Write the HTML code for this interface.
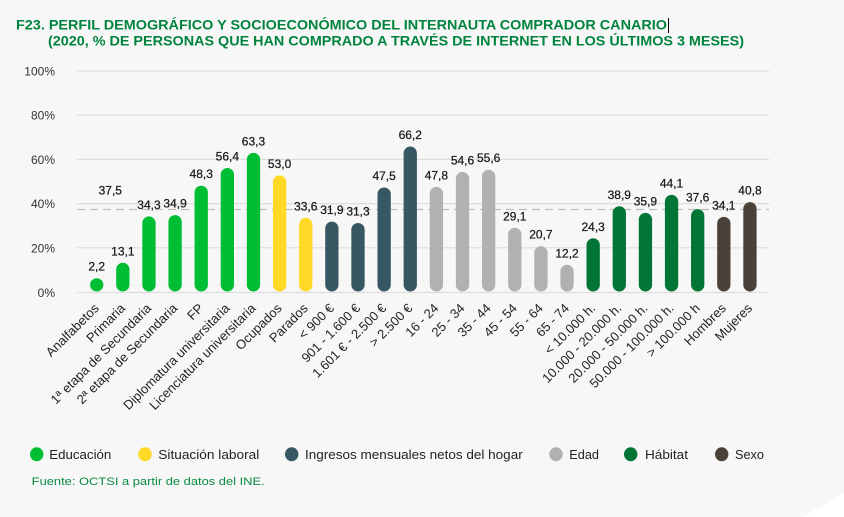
<!DOCTYPE html>
<html>
<head>
<meta charset="utf-8">
<style>
  html, body { margin: 0; padding: 0; background: #f7f7f7; }
  body { width: 844px; height: 517px; overflow: hidden; }
  svg { display: block; }
  text { font-family: "Liberation Sans", Arial, sans-serif; }
</style>
</head>
<body>
<svg width="844" height="517" viewBox="0 0 844 517" xmlns="http://www.w3.org/2000/svg">
  <rect x="0" y="0" width="844" height="517" fill="#f7f7f7"/>
  <polygon points="802,517 844,493 844,517" fill="#ffffff"/>

  <!-- Title -->
  <text x="16" y="29.5" font-size="14" font-weight="bold" fill="#00843d" textLength="651" lengthAdjust="spacingAndGlyphs">F23. PERFIL DEMOGRÁFICO Y SOCIOECONÓMICO DEL INTERNAUTA COMPRADOR CANARIO</text>
  <text x="48" y="45.5" font-size="14" font-weight="bold" fill="#00843d" textLength="696" lengthAdjust="spacingAndGlyphs">(2020, % DE PERSONAS QUE HAN COMPRADO A TRAVÉS DE INTERNET EN LOS ÚLTIMOS 3 MESES)</text>
  <line x1="668.5" y1="18" x2="668.5" y2="33" stroke="#000" stroke-width="1"/>

  <!-- Grid -->
  <g stroke="#dddddd" stroke-width="1.2">
    <line x1="77" y1="71" x2="769" y2="71"/>
    <line x1="77" y1="115.2" x2="769" y2="115.2"/>
    <line x1="77" y1="159.4" x2="769" y2="159.4"/>
    <line x1="77" y1="203.6" x2="769" y2="203.6"/>
    <line x1="77" y1="247.8" x2="769" y2="247.8"/>
    <line x1="77" y1="292.5" x2="769" y2="292.5"/>
  </g>
  <line x1="77" y1="209.5" x2="769" y2="209.5" stroke="#bdbdbd" stroke-width="1.2" stroke-dasharray="8,5"/>

  <!-- Y axis labels -->
  <g font-size="12" fill="#333" text-anchor="end">
    <text x="55" y="75.5">100%</text>
    <text x="55" y="119.7">80%</text>
    <text x="55" y="163.9">60%</text>
    <text x="55" y="208.1">40%</text>
    <text x="55" y="252.3">20%</text>
    <text x="55" y="297">0%</text>
  </g>

  <!-- Bars -->
  <g>
    <rect x="90.05" y="278.2" width="13.3" height="13.3" rx="6.65" fill="#00be34"/>
    <rect x="116.18" y="262.81" width="13.3" height="28.69" rx="6.65" fill="#00be34"/>
    <rect x="142.31" y="216.38" width="13.3" height="75.12" rx="6.65" fill="#00be34"/>
    <rect x="168.44" y="215.07" width="13.3" height="76.43" rx="6.65" fill="#00be34"/>
    <rect x="194.57" y="185.72" width="13.3" height="105.78" rx="6.65" fill="#00be34"/>
    <rect x="220.7" y="167.98" width="13.3" height="123.52" rx="6.65" fill="#00be34"/>
    <rect x="246.83" y="152.87" width="13.3" height="138.63" rx="6.65" fill="#00be34"/>
    <rect x="272.96" y="175.43" width="13.3" height="116.07" rx="6.65" fill="#ffd926"/>
    <rect x="299.09" y="217.92" width="13.3" height="73.58" rx="6.65" fill="#ffd926"/>
    <rect x="325.22" y="221.64" width="13.3" height="69.86" rx="6.65" fill="#375862"/>
    <rect x="351.35" y="222.95" width="13.3" height="68.55" rx="6.65" fill="#375862"/>
    <rect x="377.48" y="187.47" width="13.3" height="104.03" rx="6.65" fill="#375862"/>
    <rect x="403.61" y="146.52" width="13.3" height="144.98" rx="6.65" fill="#375862"/>
    <rect x="429.74" y="186.82" width="13.3" height="104.68" rx="6.65" fill="#b1b1b1"/>
    <rect x="455.87" y="171.93" width="13.3" height="119.57" rx="6.65" fill="#b1b1b1"/>
    <rect x="482.0" y="169.74" width="13.3" height="121.76" rx="6.65" fill="#b1b1b1"/>
    <rect x="508.13" y="227.77" width="13.3" height="63.73" rx="6.65" fill="#b1b1b1"/>
    <rect x="534.26" y="246.17" width="13.3" height="45.33" rx="6.65" fill="#b1b1b1"/>
    <rect x="560.39" y="264.78" width="13.3" height="26.72" rx="6.65" fill="#b1b1b1"/>
    <rect x="586.52" y="238.28" width="13.3" height="53.22" rx="6.65" fill="#007536"/>
    <rect x="612.65" y="206.31" width="13.3" height="85.19" rx="6.65" fill="#007536"/>
    <rect x="638.78" y="212.88" width="13.3" height="78.62" rx="6.65" fill="#007536"/>
    <rect x="664.91" y="194.92" width="13.3" height="96.58" rx="6.65" fill="#007536"/>
    <rect x="691.04" y="209.16" width="13.3" height="82.34" rx="6.65" fill="#007536"/>
    <rect x="717.17" y="216.82" width="13.3" height="74.68" rx="6.65" fill="#4a4239"/>
    <rect x="743.3" y="202.15" width="13.3" height="89.35" rx="6.65" fill="#4a4239"/>
  </g>

  <!-- Value labels -->
  <g font-size="12" fill="#1a1a1a" stroke="#1a1a1a" stroke-width="0.25" text-anchor="middle">
    <text x="110.3" y="194.5">37,5</text>
    <text x="96.7" y="270.7">2,2</text>
    <text x="122.83" y="255.3">13,1</text>
    <text x="148.96" y="208.9">34,3</text>
    <text x="175.09" y="207.6">34,9</text>
    <text x="201.22" y="178.2">48,3</text>
    <text x="227.35" y="160.5">56,4</text>
    <text x="253.48" y="145.4">63,3</text>
    <text x="279.61" y="167.9">53,0</text>
    <text x="305.74" y="210.4">33,6</text>
    <text x="331.87" y="214.1">31,9</text>
    <text x="358.0" y="215.5">31,3</text>
    <text x="384.13" y="180.0">47,5</text>
    <text x="410.26" y="139.0">66,2</text>
    <text x="436.39" y="179.3">47,8</text>
    <text x="462.52" y="164.4">54,6</text>
    <text x="488.65" y="162.2">55,6</text>
    <text x="514.78" y="220.3">29,1</text>
    <text x="540.91" y="238.7">20,7</text>
    <text x="567.04" y="257.3">12,2</text>
    <text x="593.17" y="230.8">24,3</text>
    <text x="619.3" y="198.8">38,9</text>
    <text x="645.43" y="205.4">35,9</text>
    <text x="671.56" y="187.4">44,1</text>
    <text x="697.69" y="201.7">37,6</text>
    <text x="723.82" y="209.3">34,1</text>
    <text x="749.95" y="194.7">40,8</text>
  </g>

  <!-- X axis labels -->
  <g font-size="13" fill="#222" text-anchor="end">
    <text transform="translate(99.7,309) rotate(-45)">Analfabetos</text>
    <text transform="translate(125.83,309) rotate(-45)">Primaria</text>
    <text transform="translate(151.96,309) rotate(-45)">1ª etapa de Secundaria</text>
    <text transform="translate(178.09,309) rotate(-45)">2ª etapa de Secundaria</text>
    <text transform="translate(204.22,309) rotate(-45)">FP</text>
    <text transform="translate(230.35,309) rotate(-45)">Diplomatura universitaria</text>
    <text transform="translate(256.48,309) rotate(-45)">Licenciatura universitaria</text>
    <text transform="translate(282.61,309) rotate(-45)">Ocupados</text>
    <text transform="translate(308.74,309) rotate(-45)">Parados</text>
    <text transform="translate(334.87,309) rotate(-45)">&lt; 900 €</text>
    <text transform="translate(361.0,309) rotate(-45)">901 - 1.600 €</text>
    <text transform="translate(387.13,309) rotate(-45)">1.601 € - 2.500 €</text>
    <text transform="translate(413.26,309) rotate(-45)">&gt; 2.500 €</text>
    <text transform="translate(439.39,309) rotate(-45)">16 - 24</text>
    <text transform="translate(465.52,309) rotate(-45)">25 - 34</text>
    <text transform="translate(491.65,309) rotate(-45)">35 - 44</text>
    <text transform="translate(517.78,309) rotate(-45)">45 - 54</text>
    <text transform="translate(543.91,309) rotate(-45)">55 - 64</text>
    <text transform="translate(570.04,309) rotate(-45)">65 - 74</text>
    <text transform="translate(596.17,309) rotate(-45)">&lt; 10.000 h.</text>
    <text transform="translate(622.3,309) rotate(-45)">10.000 - 20.000 h.</text>
    <text transform="translate(648.43,309) rotate(-45)">20.000 - 50.000 h.</text>
    <text transform="translate(674.56,309) rotate(-45)">50.000 - 100.000 h.</text>
    <text transform="translate(700.69,309) rotate(-45)">&gt; 100.000 h</text>
    <text transform="translate(726.82,309) rotate(-45)">Hombres</text>
    <text transform="translate(752.95,309) rotate(-45)">Mujeres</text>
  </g>

  <!-- Legend -->
  <g>
    <ellipse cx="36.7" cy="454.3" rx="6.7" ry="7" fill="#00be34"/>
    <ellipse cx="145" cy="454.3" rx="6.7" ry="7" fill="#ffd926"/>
    <ellipse cx="291.7" cy="454.3" rx="6.7" ry="7" fill="#375862"/>
    <ellipse cx="556" cy="454.3" rx="6.7" ry="7" fill="#b1b1b1"/>
    <ellipse cx="630.7" cy="454.3" rx="6.7" ry="7" fill="#007536"/>
    <ellipse cx="721.7" cy="454.3" rx="6.7" ry="7" fill="#4a4239"/>
  </g>
  <g font-size="13" fill="#222">
    <text x="49.3" y="459" textLength="62" lengthAdjust="spacingAndGlyphs">Educación</text>
    <text x="158.3" y="459" textLength="101" lengthAdjust="spacingAndGlyphs">Situación laboral</text>
    <text x="305" y="459" textLength="217.7" lengthAdjust="spacingAndGlyphs">Ingresos mensuales netos del hogar</text>
    <text x="569.3" y="459" textLength="29.7" lengthAdjust="spacingAndGlyphs">Edad</text>
    <text x="645" y="459" textLength="43" lengthAdjust="spacingAndGlyphs">Hábitat</text>
    <text x="735" y="459" textLength="29" lengthAdjust="spacingAndGlyphs">Sexo</text>
  </g>

  <!-- Source -->
  <text x="31.7" y="485" font-size="11" fill="#0a8a44" textLength="233" lengthAdjust="spacingAndGlyphs">Fuente: OCTSI a partir de datos del INE.</text>
</svg>
</body>
</html>
